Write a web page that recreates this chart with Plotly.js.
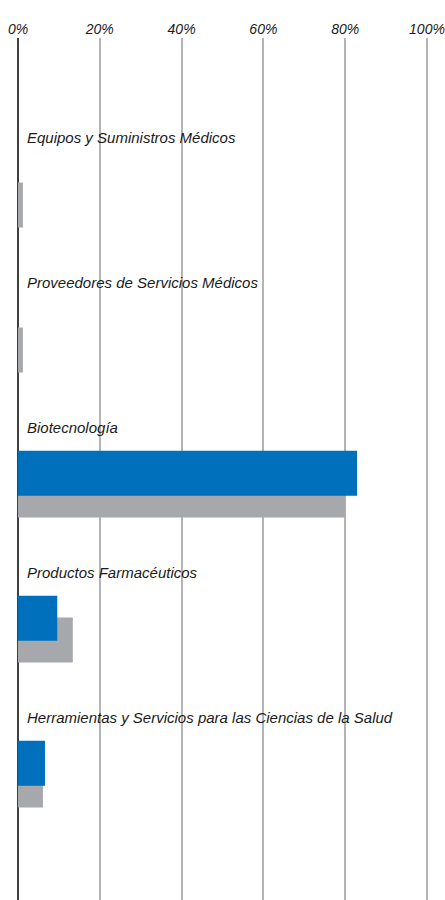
<!DOCTYPE html>
<html>
<head>
<meta charset="utf-8">
<script src="https://cdn.plot.ly/plotly-3.0.1.min.js"></script>
<style>
  html, body { margin: 0; padding: 0; background: #ffffff; }
  #chart { width: 445px; height: 900px; }
</style>
</head>
<body>
<div id="chart"></div>
<script>
const categories = [
  "Equipos y Suministros Médicos",
  "Proveedores de Servicios Médicos",
  "Biotecnología",
  "Productos Farmacéuticos",
  "Herramientas y Servicios para las Ciencias de la Salud"
];
const seriesBlue = [0, 0, 82.9, 9.6, 6.6];
const seriesGrey = [1.2, 1.2, 80.0, 13.4, 6.1];
const xTickValues = [0, 20, 40, 60, 80, 100];
const xTickLabels = ["0%", "20%", "40%", "60%", "80%", "100%"];

const FONT = "'Liberation Sans Narrow', 'Arial Narrow', 'Liberation Sans', Arial, sans-serif";

const traceGrey = {
  type: "bar",
  orientation: "h",
  name: "Serie 2",
  y: categories,
  x: seriesGrey,
  width: 0.31,
  offset: -0.155,
  marker: { color: "#a7a8ab", line: { width: 0 } },
  hoverinfo: "skip"
};
const traceBlue = {
  type: "bar",
  orientation: "h",
  name: "Serie 1",
  y: categories,
  x: seriesBlue,
  width: 0.31,
  offset: -0.305,
  marker: { color: "#0070bd", line: { width: 0 } },
  hoverinfo: "skip"
};

const annotations = categories.map((c, i) => ({
  xref: "x", yref: "y",
  x: 0, y: i - 0.465,
  text: c,
  showarrow: false,
  xanchor: "left", yanchor: "middle",
  xshift: 7,
  font: { family: FONT, size: 15, color: "#1a1a1a", style: "italic" }
}));

const layout = {
  width: 445, height: 900,
  margin: { l: 18, r: 16, t: 38, b: 0, pad: 0 },
  paper_bgcolor: "#ffffff",
  plot_bgcolor: "#ffffff",
  barmode: "overlay",
  showlegend: false,
  xaxis: {
    side: "top",
    range: [0, 100.5],
    tickvals: xTickValues,
    ticktext: xTickLabels,
    showgrid: true,
    gridcolor: "#b4b4b8",
    gridwidth: 2,
    zeroline: true,
    zerolinecolor: "#404040",
    zerolinewidth: 2,
    ticks: "",
    showline: false,
    tickfont: { family: FONT, size: 14, color: "#1a1a1a", style: "italic" },
    fixedrange: true
  },
  yaxis: {
    type: "category",
    range: [4.793, -1.152],
    showgrid: false,
    zeroline: false,
    showticklabels: false,
    ticks: "",
    showline: false,
    fixedrange: true
  },
  annotations: annotations
};

Plotly.newPlot("chart", [traceGrey, traceBlue], layout, { staticPlot: true, displayModeBar: false });
</script>
</body>
</html>
